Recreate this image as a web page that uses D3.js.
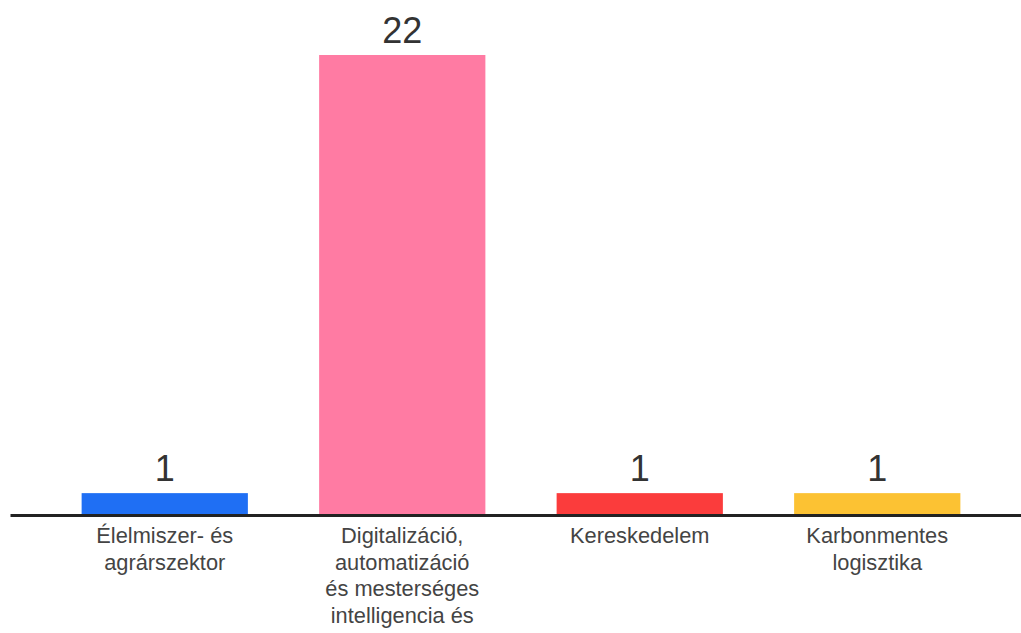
<!DOCTYPE html>
<html>
<head>
<meta charset="utf-8">
<script src="https://cdn.jsdelivr.net/npm/d3@7"></script>
<style>
  html, body { margin: 0; padding: 0; background: #fff; }
  svg { display: block; }
</style>
</head>
<body>
<svg id="chart" width="1021" height="633"></svg>
<script>
const categories = [
  ["Élelmiszer- és", "agrárszektor"],
  ["Digitalizáció,", "automatizáció", "és mesterséges", "intelligencia és"],
  ["Kereskedelem"],
  ["Karbonmentes", "logisztika"]
];
const values = [1, 22, 1, 1];
const colors = ["#1f6ff4", "#ff7ba3", "#fb3c3c", "#fcc233"];

const svg = d3.select("#chart");
const keys = categories.map((c, i) => i);

const x = d3.scaleBand().domain(keys).range([46, 996]).paddingInner(0.3).paddingOuter(0.15);
const y = d3.scaleLinear().domain([0, 22]).range([514, 55]);

svg.selectAll("rect.bar").data(values).join("rect")
  .attr("class", "bar")
  .attr("x", (d, i) => x(i))
  .attr("width", x.bandwidth())
  .attr("y", d => y(d))
  .attr("height", d => y(0) - y(d))
  .attr("fill", (d, i) => colors[i]);

svg.selectAll("text.val").data(values).join("text")
  .attr("class", "val")
  .attr("x", (d, i) => x(i) + x.bandwidth() / 2)
  .attr("y", d => y(d) - 12)
  .attr("text-anchor", "middle")
  .attr("font-family", "Liberation Sans, Arial, sans-serif")
  .attr("font-size", 36)
  .attr("fill", "#333")
  .text(d => d);

// baseline axis
const axis = d3.axisBottom(d3.scaleLinear().range([10, 1021])).ticks(0).tickSize(0).tickFormat("");
const ag = svg.append("g").attr("transform", `translate(0,${y(0) + 1})`).call(axis);
ag.select(".domain").attr("stroke", "#222").attr("stroke-width", 3);

const labels = svg.selectAll("text.cat").data(categories).join("text")
  .attr("class", "cat")
  .attr("text-anchor", "middle")
  .attr("font-family", "Liberation Sans, Arial, sans-serif")
  .attr("font-size", 21.8)
  .attr("fill", "#444");
labels.each(function(lines, i) {
  const t = d3.select(this);
  lines.forEach((ln, j) => {
    t.append("tspan")
      .attr("x", x(i) + x.bandwidth() / 2)
      .attr("y", 543 + j * 26.5)
      .text(ln);
  });
});
</script>
</body>
</html>
